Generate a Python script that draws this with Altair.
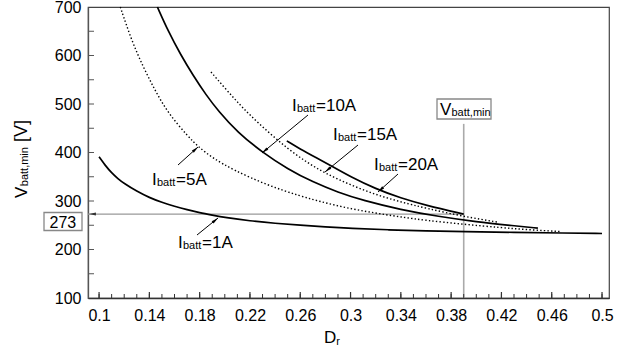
import math
import altair as alt
import pandas as pd

# ---------------- data ----------------
d_1a = [0.1, 0.105, 0.11, 0.115, 0.12, 0.13, 0.14, 0.15, 0.16, 0.17, 0.18, 0.19, 0.2, 0.22, 0.24, 0.26, 0.28, 0.3, 0.33, 0.36, 0.39, 0.43, 0.47, 0.5]
v_1a = [391, 373, 358, 346, 336, 320, 307, 297, 289, 282, 276, 271, 266, 259, 254, 250, 246.5, 243.5, 240.5, 238.5, 237, 235.3, 234, 233]

d_5a = [0.1169, 0.1257, 0.135, 0.1443, 0.1549, 0.1708, 0.1788, 0.1907, 0.2068, 0.2334, 0.26, 0.28, 0.30, 0.32, 0.34, 0.36, 0.39, 0.42, 0.44, 0.467]
v_5a = [700, 632, 577, 529, 481, 433, 412, 388, 364, 333, 310, 296, 284, 275, 267, 260, 252, 245, 241, 237]

d_10a = [0.1464, 0.155, 0.165, 0.175, 0.185, 0.195, 0.21, 0.23, 0.25, 0.27, 0.29, 0.31, 0.34, 0.37, 0.40, 0.43, 0.449]
v_10a = [700, 650, 601, 558, 519, 485, 442, 400, 366, 339, 318, 301, 282, 268, 257, 249, 244]

d_15a = [0.189, 0.20, 0.21, 0.22, 0.235, 0.25, 0.265, 0.28, 0.30, 0.32, 0.34, 0.36, 0.39, 0.418]
v_15a = [566, 533, 504, 477, 441, 408, 380, 357, 333, 313, 298, 285, 268, 256]

d_20a = [0.2493, 0.26, 0.273, 0.285, 0.30, 0.32, 0.34, 0.36, 0.39]
v_20a = [424, 407, 389, 372, 350, 325, 306, 291, 273]

x_major = [0.1, 0.14, 0.18, 0.22, 0.26, 0.3, 0.34, 0.38, 0.42, 0.46, 0.5]
x_minor = [round(0.1 + 0.01 * i, 2) for i in range(41)]
y_major = [100, 200, 300, 400, 500, 600, 700]
y_minor = [150 + 50 * i for i in range(11)]

v_batt_min = 273
d_at_min = 0.39
v_marker_top = 459

# ---------------- layout ----------------
W, H = 521, 291
XDOM = [0.0912, 0.0912 + 521 / 1257.4]
YDOM = [100, 700]
FONT = "Liberation Sans"


def px2d(px):
    return XDOM[0] + px * (XDOM[1] - XDOM[0]) / W


def py2v(py):
    return YDOM[1] - py * (YDOM[1] - YDOM[0]) / H


def d2px(d):
    return (d - XDOM[0]) * W / (XDOM[1] - XDOM[0])


def v2py(v):
    return (YDOM[1] - v) * H / (YDOM[1] - YDOM[0])


xaxis = alt.Axis(values=x_major, format=".2~f", labelFontSize=16, labelFont=FONT, labelColor="black",
                 ticks=False, tickSize=0, labelPadding=9, domainColor="#333", domainWidth=1.3,
                 grid=False, title=None, labelFlush=False, labelOverlap=False)
yaxis = alt.Axis(values=y_major, labelFontSize=16, labelFont=FONT, labelColor="black",
                 ticks=False, tickSize=0, labelPadding=7, domainColor="#555", domainWidth=1.3,
                 grid=False, title=None, labelFlush=False, labelOverlap=False)
X = alt.X("D:Q", scale=alt.Scale(domain=XDOM, nice=False, zero=False), axis=xaxis)
Y = alt.Y("V:Q", scale=alt.Scale(domain=YDOM, nice=False, zero=False), axis=yaxis)

# curves
rows = []
for name, ds, vs, style in [("1A", d_1a, v_1a, "solid"), ("5A", d_5a, v_5a, "dot"),
                             ("10A", d_10a, v_10a, "solid"), ("15A", d_15a, v_15a, "dot"),
                             ("20A", d_20a, v_20a, "solid")]:
    for i, (d, v) in enumerate(zip(ds, vs)):
        rows.append({"D": d, "V": v, "curve": name, "style": style, "o": i})
curves = pd.DataFrame(rows)

solid = alt.Chart(curves).transform_filter(alt.datum.style == "solid").mark_line(
    color="black", strokeWidth=1.7, interpolate="basis").encode(X, Y, detail="curve:N", order="o:Q")
dotted = alt.Chart(curves).transform_filter(alt.datum.style == "dot").mark_line(
    color="black", strokeWidth=1.4, strokeDash=[1.4, 2.2], interpolate="basis").encode(
    X, Y, detail="curve:N", order="o:Q")

# ticks (inward)
xt_major = alt.Chart(pd.DataFrame({"D": x_major})).mark_rule(color="#333", strokeWidth=1.2).encode(
    X, y=alt.value(H), y2=alt.value(H - 6))
xt_minor = alt.Chart(pd.DataFrame({"D": x_minor})).mark_rule(
    color="#333", strokeWidth=1).encode(X, y=alt.value(H), y2=alt.value(H - 4))
yt = alt.Chart(pd.DataFrame({"V": y_minor})).mark_rule(color="#555", strokeWidth=1).encode(
    Y, x=alt.value(0), x2=alt.value(6))

# reference lines
hline = alt.Chart(pd.DataFrame({"D": [XDOM[0]], "D2": [d_at_min], "V": [v_batt_min]})).mark_rule(
    color="#999", strokeWidth=1.3).encode(X, x2="D2:Q", y=Y)
vline = alt.Chart(pd.DataFrame({"D": [d_at_min], "V": [YDOM[0]], "V2": [v_marker_top]})).mark_rule(
    color="#aaa", strokeWidth=1.6).encode(X, y=Y, y2="V2:Q")

# arrows (pixel layout: tail -> tip)
arrows_px = [
    ((220, 108), (174, 146)),
    ((270, 138), (237, 165)),
    ((310, 167), (290, 185)),
    ((90, 158), (110, 140)),
    ((109, 228), (130, 211)),
]
arr_rows, head_rows = [], []
for (tx, ty), (hx, hy) in arrows_px:
    arr_rows.append({"D": px2d(tx), "V": py2v(ty), "D2": px2d(hx), "V2": py2v(hy)})
for (tx, ty), (hx, hy), col in [(a[0], a[1], "black") for a in arrows_px] + \
        [((d2px(d_at_min), v2py(v_batt_min)), (1.0, v2py(v_batt_min)), "#333")]:
    L = math.hypot(hx - tx, hy - ty)
    ux, uy = (hx - tx) / L, (hy - ty) / L
    ang = math.degrees(math.atan2(ux, -uy)) % 360
    cx, cy = hx - 3.4 * ux, hy - 3.4 * uy
    head_rows.append({"D": px2d(cx), "V": py2v(cy), "ang": ang, "col": col})

arrow_lines = alt.Chart(pd.DataFrame(arr_rows)).mark_rule(color="black", strokeWidth=1).encode(
    X, Y, x2="D2:Q", y2="V2:Q")
heads = alt.Chart(pd.DataFrame(head_rows)).mark_point(
    shape="M0,-1L0.42,1L-0.42,1Z", filled=True, size=50, opacity=1, strokeWidth=0).encode(
    X, Y, angle=alt.Angle("ang:Q", scale=None), color=alt.Color("col:N", scale=None, legend=None))

# boxes
boxes_px = [(-44, 205.5, -6, 223.5), (349, 92, 403, 112)]
box_df = pd.DataFrame([{"D": px2d(a), "V": py2v(b), "D2": px2d(c), "V2": py2v(d)} for a, b, c, d in boxes_px])
boxes = alt.Chart(box_df).mark_rect(fill="white", stroke="#888", strokeWidth=1.3).encode(
    X, Y, x2="D2:Q", y2="V2:Q")

# texts (pieces for subscripts)
txt = []


def lbl(x0, y0, cur):
    txt.append((x0, y0, "I", 17, 0))
    txt.append((x0 + 5, y0 + 1, "batt", 11, 0))
    txt.append((x0 + 24, y0, "=" + cur, 17, 0))


lbl(204, 104, "10A")
lbl(245, 133, "15A")
lbl(286, 163, "20A")
lbl(64, 178, "5A")
lbl(90, 241, "1A")
txt.append((352, 108, "V", 17, 0))
txt.append((363.5, 109, "batt,min", 11, 0))
txt.append((-38.5, 220.5, str(v_batt_min), 16, 0))
txt.append((236, 336, "D", 17, 0))
txt.append((248.3, 337.5, "r", 11, 0))
txt.append((-61, 191, "V", 17, 270))
txt.append((-60, 179.2, "batt,min", 11, 270))
txt.append((-61, 135, "[V]", 18, 270))
txt_df = pd.DataFrame([{"D": px2d(a), "V": py2v(b), "t": c, "fs": d, "ang": e} for a, b, c, d, e in txt])
texts = alt.Chart(txt_df).mark_text(align="left", baseline="alphabetic", font=FONT, color="black").encode(
    X, Y, text="t:N", size=alt.Size("fs:Q", scale=None, legend=None),
    angle=alt.Angle("ang:Q", scale=None))

chart = alt.layer(vline, hline, dotted, solid, xt_minor, xt_major, yt, arrow_lines, heads, boxes, texts).properties(
    width=W, height=H,
    padding={"left": 88, "top": 7, "right": 20, "bottom": 53},
    autosize=alt.AutoSizeParams(type="none"),
    background="white",
).configure_view(stroke="#444", strokeWidth=1.2)

chart.save("out.html", embed_options={"renderer": "svg", "actions": False})
